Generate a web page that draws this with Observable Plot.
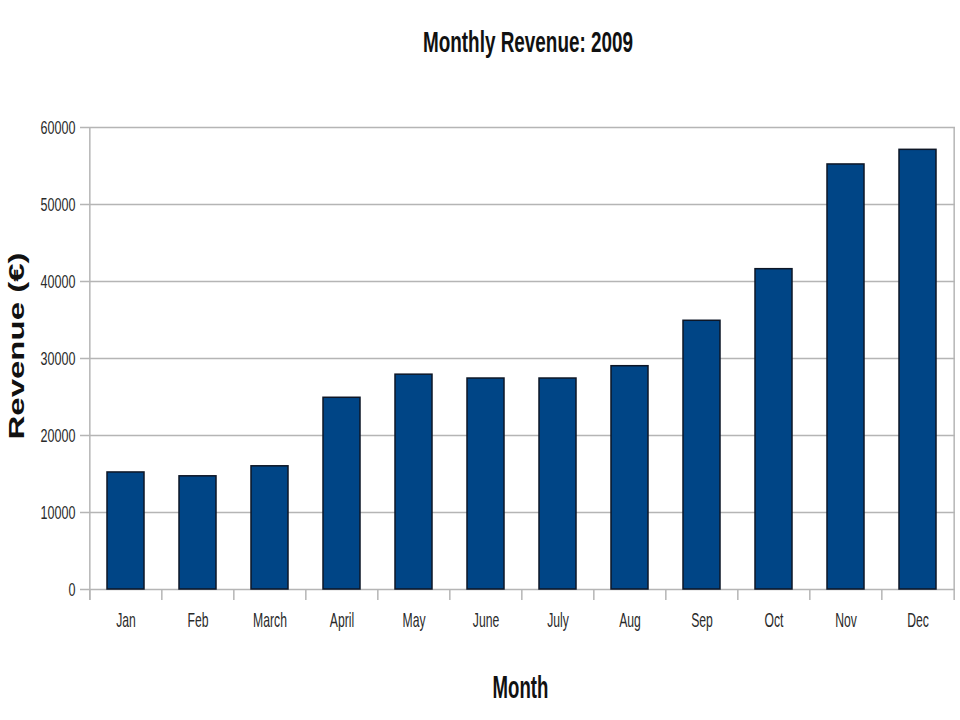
<!DOCTYPE html>
<html><head><meta charset="utf-8">
<script src="https://cdn.jsdelivr.net/npm/d3@7"></script>
<script src="https://cdn.jsdelivr.net/npm/@observablehq/plot@0.6"></script>
<style>
body{margin:0;background:#fff;font-family:"Liberation Sans",Arial,sans-serif;}
#wrap{width:960px;}
#title{height:90px;position:relative;}
#title span{position:absolute;left:528px;top:27px;font-size:30px;line-height:30px;font-weight:bold;color:#111;transform:translateX(-50%) scaleX(0.63);white-space:nowrap;}
#chart svg{display:block;}
</style></head><body>
<div id="wrap"><div id="title"><span>Monthly Revenue: 2009</span></div><div id="chart"></div></div>
<script>
const months = ["Jan","Feb","March","April","May","June","July","Aug","Sep","Oct","Nov","Dec"];
const revenue = [15200,14700,16000,24900,27900,27400,27400,29000,34900,41600,55200,57100];
const yTicks = [0,10000,20000,30000,40000,50000,60000];
const xLabel = "Month";
const yLabel = "Revenue (€)";

const data = months.map((m, i) => ({month: m, revenue: revenue[i]}));
const W = 960, H = 630, ML = 87, MR = 5, MT = 37, MB = 131;
const step = (W - ML - MR) / months.length;
const grid = "#b5b5b5";
const last = months[months.length - 1];

const chart = Plot.plot({
  width: W, height: H,
  marginLeft: ML, marginRight: MR, marginTop: MT, marginBottom: MB,
  style: {fontFamily: '"Liberation Sans", Arial, sans-serif', color: "#2a2a2a", background: "#fff", overflow: "visible"},
  x: {type: "band", domain: months, paddingInner: 0.49, paddingOuter: 0.245, label: null},
  y: {domain: [0, 60000], label: null},
  marks: [
    Plot.ruleY(yTicks, {stroke: grid, strokeWidth: 1.5, insetLeft: -7}),
    Plot.ruleX([months[0]], {x: d => d, dx: -step / 2, y1: 60000, y2: 0, insetBottom: -11, stroke: grid, strokeWidth: 1.5}),
    Plot.ruleX(months, {x: d => d, dx: -step / 2, y1: 0, y2: 0, insetBottom: -11, stroke: grid, strokeWidth: 1.5}),
    Plot.ruleX([last], {x: d => d, dx: step / 2, y1: 60000, y2: 0, stroke: grid, strokeWidth: 1.5}),
    Plot.ruleX([last], {x: d => d, dx: step / 2, y1: 0, y2: 0, insetBottom: -11, stroke: grid, strokeWidth: 1.5}),
    Plot.barY(data, {x: "month", y: "revenue", fill: "#004586", stroke: "#0d1626", strokeWidth: 1.5}),
    Plot.axisY(yTicks, {tickSize: 0, tickPadding: 12, tickFormat: d => String(d), fontSize: 19, label: null}),
    Plot.axisX({tickSize: 0, tickPadding: 23, fontSize: 21, label: null})
  ]
});
document.getElementById("chart").appendChild(chart);

const svg = d3.select(chart);
function squeeze(sel, ratio) {
  sel.each(function() {
    const len = this.getComputedTextLength();
    this.setAttribute("textLength", (len * ratio).toFixed(2));
    this.setAttribute("lengthAdjust", "spacingAndGlyphs");
  });
}
squeeze(svg.selectAll('g[aria-label="y-axis tick label"] text'), 0.66);
squeeze(svg.selectAll('g[aria-label="x-axis tick label"] text'), 0.58);

const mx = svg.append("text")
  .attr("x", 520.5).attr("y", 608)
  .attr("text-anchor", "middle")
  .attr("font-size", 31).attr("font-weight", "bold").attr("fill", "#111")
  .text(xLabel);
squeeze(mx, 0.6);

svg.append("text")
  .attr("transform", "translate(24,256) rotate(-90) scale(1,0.68)")
  .attr("text-anchor", "middle")
  .attr("font-size", 33).attr("font-weight", "bold").attr("fill", "#111")
  .text(yLabel);
</script>
</body></html>
